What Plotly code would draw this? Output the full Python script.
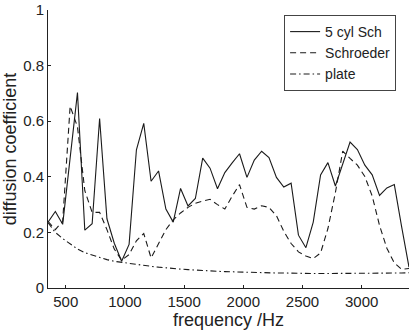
import plotly.graph_objects as go

freq = [350, 412, 474, 537, 599, 661, 723, 786, 848, 910, 972, 1035, 1097, 1159,
        1221, 1284, 1346, 1408, 1470, 1533, 1595, 1657, 1719, 1782, 1844, 1906,
        1968, 2031, 2093, 2155, 2217, 2280, 2342, 2404, 2466, 2529, 2591, 2653,
        2715, 2778, 2840, 2902, 2964, 3027, 3089, 3151, 3213, 3276, 3338, 3400]

cyl5 = [0.237, 0.275, 0.229, 0.47, 0.703, 0.208, 0.231, 0.61, 0.249, 0.161,
        0.096, 0.157, 0.497, 0.592, 0.384, 0.421, 0.284, 0.237, 0.358, 0.295,
        0.322, 0.467, 0.431, 0.357, 0.415, 0.45, 0.483, 0.398, 0.46, 0.492,
        0.469, 0.398, 0.363, 0.377, 0.19, 0.145, 0.237, 0.407, 0.451, 0.367,
        0.45, 0.525, 0.498, 0.442, 0.407, 0.333, 0.36, 0.372, 0.22, 0.075]

schroeder = [0.24, 0.21, 0.24, 0.654, 0.58, 0.35, 0.272, 0.272, 0.21, 0.14,
             0.1, 0.12, 0.17, 0.196, 0.108, 0.16, 0.21, 0.245, 0.27, 0.29,
             0.305, 0.313, 0.319, 0.3, 0.284, 0.33, 0.372, 0.29, 0.284, 0.296,
             0.29, 0.26, 0.204, 0.16, 0.13, 0.115, 0.106, 0.126, 0.214, 0.343,
             0.492, 0.466, 0.442, 0.401, 0.331, 0.225, 0.143, 0.09, 0.067, 0.07]

plate = [0.235, 0.2, 0.178, 0.158, 0.14, 0.127, 0.118, 0.11, 0.102, 0.096,
         0.092, 0.088, 0.085, 0.081, 0.078, 0.075, 0.072, 0.07, 0.068, 0.066,
         0.064, 0.062, 0.061, 0.06, 0.059, 0.058, 0.057, 0.056, 0.056, 0.055,
         0.055, 0.054, 0.054, 0.053, 0.053, 0.052, 0.052, 0.052, 0.052, 0.052,
         0.052, 0.052, 0.052, 0.052, 0.053, 0.053, 0.053, 0.053, 0.054, 0.055]

names = ["5 cyl Sch", "Schroeder", "plate"]
dashes = ["solid", "6px,4px", "6px,3px,1.5px,3px"]

fig = go.Figure()
for y, n, d in zip([cyl5, schroeder, plate], names, dashes):
    fig.add_trace(go.Scatter(x=freq, y=y, mode="lines", name=n,
                             line=dict(color="#1a1a1a", width=1.1, dash=d)))

font = dict(family="Liberation Sans, Arial, sans-serif", size=15, color="#222")
lfont = dict(family="Liberation Sans, Arial, sans-serif", size=14, color="#222")
fig.update_layout(
    width=410, height=330,
    margin=dict(l=48, r=1, t=10, b=36),
    paper_bgcolor="white", plot_bgcolor="white",
    font=font,
    showlegend=True,
    legend=dict(x=0.654, y=0.982, xanchor="left", yanchor="top",
                bordercolor="#444", borderwidth=1, bgcolor="white",
                font=lfont, tracegroupgap=0, itemwidth=30),
)
fig.update_xaxes(range=[350, 3400], tickvals=[500, 1000, 1500, 2000, 2500, 3000],
                 ticks="inside", ticklen=3, tickcolor="#222", showline=True,
                 linecolor="#222", linewidth=1, showgrid=False, zeroline=False,
                 title=dict(text="frequency /Hz", standoff=6), tickfont=font)
fig.update_yaxes(range=[0, 1], tickvals=[0, 0.2, 0.4, 0.6, 0.8, 1],
                 ticktext=["0", "0.2", "0.4", "0.6", "0.8", "1"],
                 ticks="inside", ticklen=3, tickcolor="#222", showline=True,
                 linecolor="#222", linewidth=1, showgrid=False, zeroline=False,
                 title=dict(text="diffusion coefficient", standoff=6), tickfont=font)

fig.write_html("out.html")
